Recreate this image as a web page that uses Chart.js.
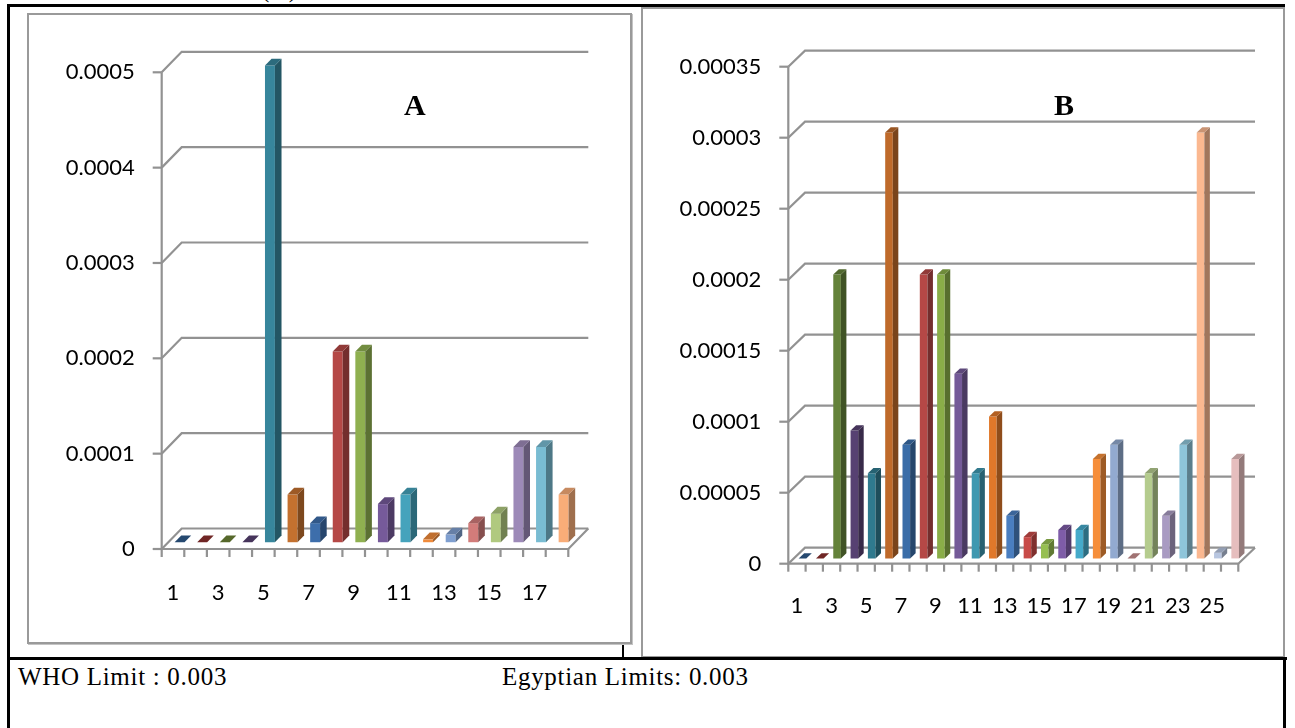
<!DOCTYPE html>
<html>
<head>
<meta charset="utf-8">
<script src="https://cdn.jsdelivr.net/npm/chart.js@4.4.1/dist/chart.umd.min.js"></script>
<style>
  html, body { margin: 0; padding: 0; background: #fff; }
  body { width: 1295px; height: 728px; position: relative; overflow: hidden; font-family: "Liberation Serif", "Times New Roman", serif; }
  .abs { position: absolute; }
  .black { background: #000; }
  .frame { box-sizing: border-box; border: 2px solid #9a9a9a; background: #fff; }
  .note { font-size: 25px; line-height: 25px; letter-spacing: 0.7px; white-space: nowrap; color: #000; }
  .letter { font-size: 30px; line-height: 30px; font-weight: bold; color: #000; }
  canvas { position: absolute; }
</style>
</head>
<body>
  <div class="abs note" style="left:261px; top:-24px;">(A)</div>

  <div class="abs black" style="left:7px; top:4px; width:1278px; height:3px;"></div>
  <div class="abs black" style="left:7px; top:4px; width:3px; height:724px;"></div>
  <div class="abs black" style="left:622px; top:30px; width:2px; height:628px;"></div>

  <div class="abs frame" style="left:27px; top:13px; width:605px; height:631px; box-shadow:1px 1px 0 #c4c4c4;"></div>
  <div class="abs frame" style="left:641px; top:7px; width:644px; height:651px;"></div>

  <div class="abs black" style="left:7px; top:657px; width:1280px; height:3px;"></div>
  <div class="abs black" style="left:1283px; top:657px; width:3px; height:71px;"></div>

  <canvas id="chartA" width="598" height="620" style="left:30px; top:20px;"></canvas>
  <canvas id="chartB" width="635" height="640" style="left:645px; top:10px;"></canvas>

  <div class="abs letter" style="left:404px; top:90px;">A</div>
  <div class="abs letter" style="left:1054px; top:90px;">B</div>

  <div class="abs note" style="left:18px; top:664px;">WHO Limit : 0.003</div>
  <div class="abs note" style="left:502px; top:664px;">Egyptian Limits: 0.003</div>

<script>
// ---- chart A: sample number vs. concentration ----
const categoriesA = ['1','2','3','4','5','6','7','8','9','10','11','12','13','14','15','16','17','18'];
const valuesA = [0, 0, 0, 0, 0.0005, 0.00005, 0.00002, 0.0002, 0.0002, 0.00004, 0.00005,
                 0.000003, 0.000008, 0.00002, 0.00003, 0.0001, 0.0001, 0.00005];
const yTicksA = [0, 0.0001, 0.0002, 0.0003, 0.0004, 0.0005];
const colorsA = ['#2f5b8c','#8c302e','#6c8236','#574172','#37869c','#c4712f','#3d6eab','#b54846','#8fb050',
                 '#765a9a','#45a3bc','#f08b3b','#7f9fd0','#d27c7a','#b0c97f','#9d8ab8','#79bcd2','#f9ad78'];

// ---- chart B ----
const categoriesB = ['1','2','3','4','5','6','7','8','9','10','11','12','13','14','15','16','17','18','19','20','21','22','23','24','25','26'];
const valuesB = [0, 0, 0.0002, 0.00009, 0.00006, 0.0003, 0.00008, 0.0002, 0.0002, 0.00013, 0.00006, 0.0001,
                 0.00003, 0.000015, 0.00001, 0.00002, 0.00002, 0.00007, 0.00008, 0, 0.00006, 0.00003,
                 0.00008, 0.0003, 0.000004, 0.00007];
const yTicksB = [0, 0.00005, 0.0001, 0.00015, 0.0002, 0.00025, 0.0003, 0.00035];
const colorsB = ['#2f5b8c','#8c302e','#64823a','#574172','#2f7a8e','#bf6a2a','#3a6da8','#b54846','#8aae48',
                 '#745a98','#3f98b0','#e0782a','#4a7ec0','#c84b48','#96bf50','#7e5ca8','#45aaca','#f68e3a',
                 '#92aad0','#c99090','#b5cc8e','#a99bc2','#8ec5da','#fbb890','#b8c6e0','#e6bebe'];

function shade(hex, k) {
  const n = parseInt(hex.slice(1), 16);
  const r = Math.round(((n >> 16) & 255) * k);
  const g = Math.round(((n >> 8) & 255) * k);
  const b = Math.round((n & 255) * k);
  return `rgb(${r},${g},${b})`;
}

function fillPoly(ctx, pts) {
  ctx.beginPath();
  ctx.moveTo(pts[0][0], pts[0][1]);
  for (let i = 1; i < pts.length; i++) ctx.lineTo(pts[i][0], pts[i][1]);
  ctx.closePath();
  ctx.fill();
}

// Draws the Excel-like 3D box (side wall, back wall, floor) and gives each bar depth.
const depth3d = {
  id: 'depth3d',
  beforeDatasetsDraw(chart, args, opts) {
    const { ctx, chartArea: { left, right }, scales: { x, y } } = chart;
    const dx = opts.dx, dy = opts.dy;
    const y0 = y.getPixelForValue(0);
    const yTop = y.getPixelForValue(y.max);
    ctx.save();
    ctx.strokeStyle = '#929292';
    ctx.lineWidth = 2.2;
    ctx.lineJoin = 'miter';
    y.ticks.forEach(t => {
      const py = y.getPixelForValue(t.value);
      ctx.beginPath();
      ctx.moveTo(left, py);
      ctx.lineTo(left + dx, py + dy);
      ctx.lineTo(right + dx, py + dy);
      ctx.stroke();
      ctx.beginPath();
      ctx.moveTo(left - 9, py);
      ctx.lineTo(left, py);
      ctx.stroke();
    });
    ctx.beginPath();
    ctx.moveTo(left, y0);
    ctx.lineTo(right, y0);
    ctx.lineTo(right + dx, y0 + dy);
    ctx.stroke();
    ctx.beginPath();
    ctx.moveTo(left, yTop);
    ctx.lineTo(left, y0);
    ctx.stroke();
    const n = x.ticks.length;
    for (let i = 0; i <= n; i++) {
      const px = left + (right - left) * i / n;
      ctx.beginPath();
      ctx.moveTo(px, y0);
      ctx.lineTo(px, y0 + opts.tick);
      ctx.stroke();
    }
    ctx.restore();
    // bars stand a third of the way into the floor
    ctx.save();
    ctx.translate(dx * opts.f1, dy * opts.f1);
  },
  afterDatasetsDraw(chart, args, opts) {
    const { ctx } = chart;
    ctx.restore();
    const meta = chart.getDatasetMeta(0);
    const colors = chart.data.datasets[0].backgroundColor;
    const ox = opts.dx * opts.f1, oy = opts.dy * opts.f1;
    const bx = opts.dx * (opts.f2 - opts.f1), by = opts.dy * (opts.f2 - opts.f1);
    ctx.save();
    meta.data.forEach((bar, i) => {
      const { x, y, base, width } = bar.getProps(['x', 'y', 'base', 'width'], true);
      const l = x - width / 2 + ox, r = x + width / 2 + ox;
      const t = Math.min(y, base) + oy, b = base + oy;
      ctx.fillStyle = shade(colors[i], 0.64);
      fillPoly(ctx, [[r, t], [r + bx, t + by], [r + bx, b + by], [r, b]]);
      ctx.fillStyle = shade(colors[i], 0.8);
      fillPoly(ctx, [[l, t], [r, t], [r + bx, t + by], [l + bx, t + by]]);
    });
    ctx.restore();
  }
};

Chart.defaults.font.family = 'Lato, "Open Sans", sans-serif';
Chart.defaults.font.size = 22;
Chart.defaults.color = '#000';

function makeChart(id, cats, vals, ticks, colors, g) {
  return new Chart(document.getElementById(id), {
    type: 'bar',
    data: {
      labels: cats,
      datasets: [{
        data: vals,
        backgroundColor: colors,
        borderWidth: 0,
        barPercentage: 0.44,
        categoryPercentage: 1,
        clip: false
      }]
    },
    options: {
      responsive: false,
      animation: false,
      events: [],
      layout: { padding: { top: g.top, right: g.right, left: 0, bottom: 0 } },
      plugins: {
        legend: { display: false },
        tooltip: { enabled: false },
        title: { display: false },
        depth3d: { dx: g.dx, dy: g.dy, f1: 0.33, f2: 0.66, tick: g.tick }
      },
      scales: {
        x: {
          offset: true,
          grid: { display: false, drawTicks: false },
          border: { display: false },
          ticks: {
            autoSkip: false,
            maxRotation: 0,
            padding: g.xPad,
            callback: (v, i) => (i % 2 === 0 ? cats[i] : '')
          },
          afterFit: s => { s.height = g.xH; }
        },
        y: {
          min: 0,
          max: ticks[ticks.length - 1],
          grid: { display: false, drawTicks: false },
          border: { display: false },
          ticks: { padding: g.yPad, callback: v => String(v) },
          afterBuildTicks: s => { s.ticks = ticks.map(v => ({ value: v })); },
          afterFit: s => { s.width = g.yW; }
        }
      }
    },
    plugins: [depth3d]
  });
}

makeChart('chartA', categoriesA, valuesA, yTicksA, colorsA,
  { top: 52.3, right: 59.7, yW: 131.7, xH: 91, xPad: 31, yPad: 27, dx: 20, dy: -20.5, tick: 8 });
makeChart('chartB', categoriesB, valuesB, yTicksB, colorsB,
  { top: 56.7, right: 41.7, yW: 143.3, xH: 86.3, xPad: 29, yPad: 27, dx: 16.7, dy: -16, tick: 8 });
</script>
</body>
</html>
